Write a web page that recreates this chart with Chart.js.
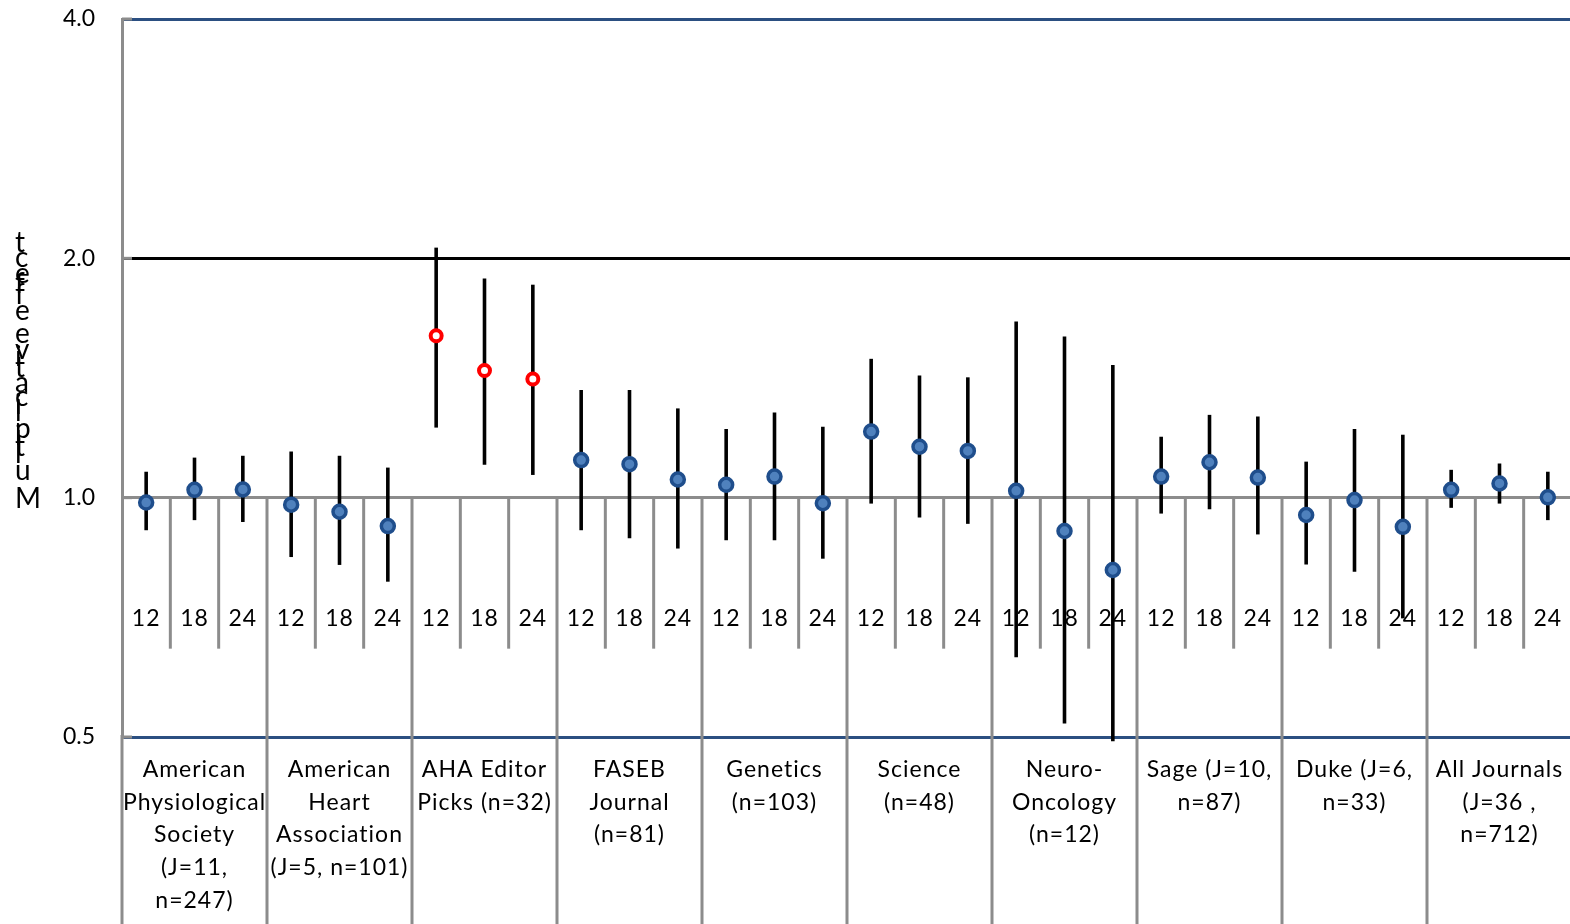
<!DOCTYPE html>
<html>
<head>
<meta charset="utf-8">
<script src="https://cdn.jsdelivr.net/npm/chart.js@4.4.1/dist/chart.umd.min.js"></script>
<style>
  html, body { margin: 0; padding: 0; background: #fff; overflow: hidden; }
  #wrap { width: 1572px; height: 924px; }
</style>
</head>
<body>
<div id="wrap"><canvas id="grafico"></canvas></div>
<script>
// Journal groups, label split in lines like the original
const groups = [
  ["American", "Physiological", "Society", "(J=11,", "n=247)"],
  ["American", "Heart", "Association", "(J=5, n=101)"],
  ["AHA Editor", "Picks (n=32)"],
  ["FASEB", "Journal", "(n=81)"],
  ["Genetics", "(n=103)"],
  ["Science", "(n=48)"],
  ["Neuro-", "Oncology", "(n=12)"],
  ["Sage (J=10,", "n=87)"],
  ["Duke (J=6,", "n=33)"],
  ["All Journals", "(J=36 ,", "n=712)"]
];
const months = ["12", "18", "24"];

// estimate and interval (lower / upper) for every group x month
const estimates = [0.986, 1.023, 1.024, 0.980, 0.960, 0.921, 1.598, 1.445, 1.410, 1.115,
                   1.102, 1.054, 1.038, 1.063, 0.984, 1.211, 1.159, 1.145, 1.020, 0.908,
                   0.811, 1.063, 1.108, 1.060, 0.951, 0.993, 0.919, 1.023, 1.042, 1.001];
const lower = [0.910, 0.937, 0.932, 0.842, 0.823, 0.784, 1.225, 1.100, 1.068, 0.910,
               0.889, 0.863, 0.884, 0.884, 0.838, 0.983, 0.944, 0.927, 0.630, 0.520,
               0.494, 0.955, 0.967, 0.899, 0.824, 0.807, 0.705, 0.971, 0.983, 0.937];
const upper = [1.078, 1.123, 1.129, 1.143, 1.129, 1.091, 2.063, 1.886, 1.853, 1.366,
               1.366, 1.295, 1.220, 1.280, 1.228, 1.495, 1.425, 1.417, 1.666, 1.595,
               1.469, 1.193, 1.271, 1.265, 1.110, 1.220, 1.200, 1.084, 1.104, 1.078];

const highlightGroup = 2; // AHA Editor Picks, drawn in red
const yTicks = [0.5, 1, 2, 4];
const yTitle = "Multiplicative effect";

const labels = [];
groups.forEach(() => months.forEach(m => labels.push(m)));

const FONT = 'Lato, "Open Sans", sans-serif';
const GRAY = "#8c8c8c";
const NAVY = "#2b4f81";

const esResaltado = (i) => Math.floor(i / months.length) === highlightGroup;

const decor = {
  id: "decor",
  beforeDatasetsDraw(chart) {
    const { ctx, chartArea: a, scales: { x, y } } = chart;
    const y1 = y.getPixelForValue(1);
    const seg = (x0, y0, x1, yy1) => { ctx.beginPath(); ctx.moveTo(x0, y0); ctx.lineTo(x1, yy1); ctx.stroke(); };
    ctx.save();

    // small gray ticks inside the axis and axis going down to the bottom
    ctx.strokeStyle = GRAY; ctx.lineWidth = 3;
    yTicks.forEach(v => { const py = y.getPixelForValue(v); seg(a.left, py, a.left + 10, py); });
    seg(a.left, a.bottom - 2, a.left, chart.height);

    // separators: short between months, long between groups
    for (let i = 1; i < labels.length; i++) {
      const px = (x.getPixelForValue(i - 1) + x.getPixelForValue(i)) / 2;
      const major = i % months.length === 0;
      seg(px, y1 - 1.5, px, major ? chart.height : y1 + 151);
    }

    // month labels and group labels
    ctx.fillStyle = "#000";
    ctx.textAlign = "center";
    ctx.textBaseline = "alphabetic";
    ctx.font = `23px ${FONT}`;
    ctx.letterSpacing = "1px";
    labels.forEach((l, i) => ctx.fillText(l, x.getPixelForValue(i), y1 + 128));
    groups.forEach((g, gi) => {
      const cx = x.getPixelForValue(gi * months.length + 1);
      g.forEach((t, li) => ctx.fillText(t, cx, a.bottom + 40 + li * 32.7));
    });

    // error bars
    ctx.strokeStyle = "#000"; ctx.lineWidth = 3.6;
    estimates.forEach((_, i) => {
      const px = x.getPixelForValue(i);
      seg(px, y.getPixelForValue(upper[i]), px, y.getPixelForValue(lower[i]));
    });
    ctx.restore();
  },
  afterDraw(chart) {
    // y title: upright letters stacked from bottom to top
    const { ctx, scales: { y } } = chart;
    ctx.save();
    ctx.font = `28px ${FONT}`;
    ctx.fillStyle = "#000";
    ctx.textAlign = "left";
    ctx.textBaseline = "alphabetic";
    const chars = [...yTitle];
    const widths = chars.map(c => ctx.measureText(c).width);
    const total = widths.slice(0, -1).reduce((s, w) => s + w, 0);
    const base = y.getPixelForValue(1) + 10;
    const top = y.getPixelForValue(2) - 6;
    const k = (base - top) / total;
    let py = base;
    chars.forEach((c, i) => { ctx.fillText(c, 15, py); py -= widths[i] * k; });
    ctx.restore();
  }
};

new Chart(document.getElementById("grafico"), {
  type: "line",
  data: {
    labels: labels,
    datasets: [{
      data: estimates,
      showLine: false,
      pointRadius: (c) => esResaltado(c.dataIndex) ? 5.5 : 6.5,
      pointHoverRadius: 6.5,
      pointBorderWidth: (c) => esResaltado(c.dataIndex) ? 4 : 3.5,
      pointBackgroundColor: (c) => esResaltado(c.dataIndex) ? "#ffffff" : "#4f81bd",
      pointBorderColor: (c) => esResaltado(c.dataIndex) ? "#ff0000" : "#1f4e8c",
    }],
  },
  options: {
    responsive: true,
    maintainAspectRatio: false,
    animation: false,
    layout: { autoPadding: false, padding: { top: 19, bottom: 187, left: 0, right: 0 } },
    plugins: { legend: { display: false }, tooltip: { enabled: false } },
    scales: {
      x: { type: "category", offset: true, display: false },
      y: {
        type: "logarithmic",
        min: 0.5,
        max: 4,
        afterFit: (s) => { s.width = 122; s.paddingTop = 0; s.paddingBottom = 0; },
        afterBuildTicks: (s) => { s.ticks = yTicks.map(v => ({ value: v })); },
        ticks: {
          padding: 27,
          color: "#000",
          font: { family: FONT, size: 23 },
          callback: (v) => Number(v).toFixed(1),
        },
        grid: {
          drawTicks: false,
          lineWidth: 3,
          color: (c) => {
            const v = c.tick && c.tick.value;
            if (v === 2) return "#000000";
            if (v === 1) return GRAY;
            return NAVY;
          },
        },
        border: { display: true, color: GRAY, width: 3 },
      },
    },
  },
  plugins: [decor],
});
</script>
</body>
</html>
